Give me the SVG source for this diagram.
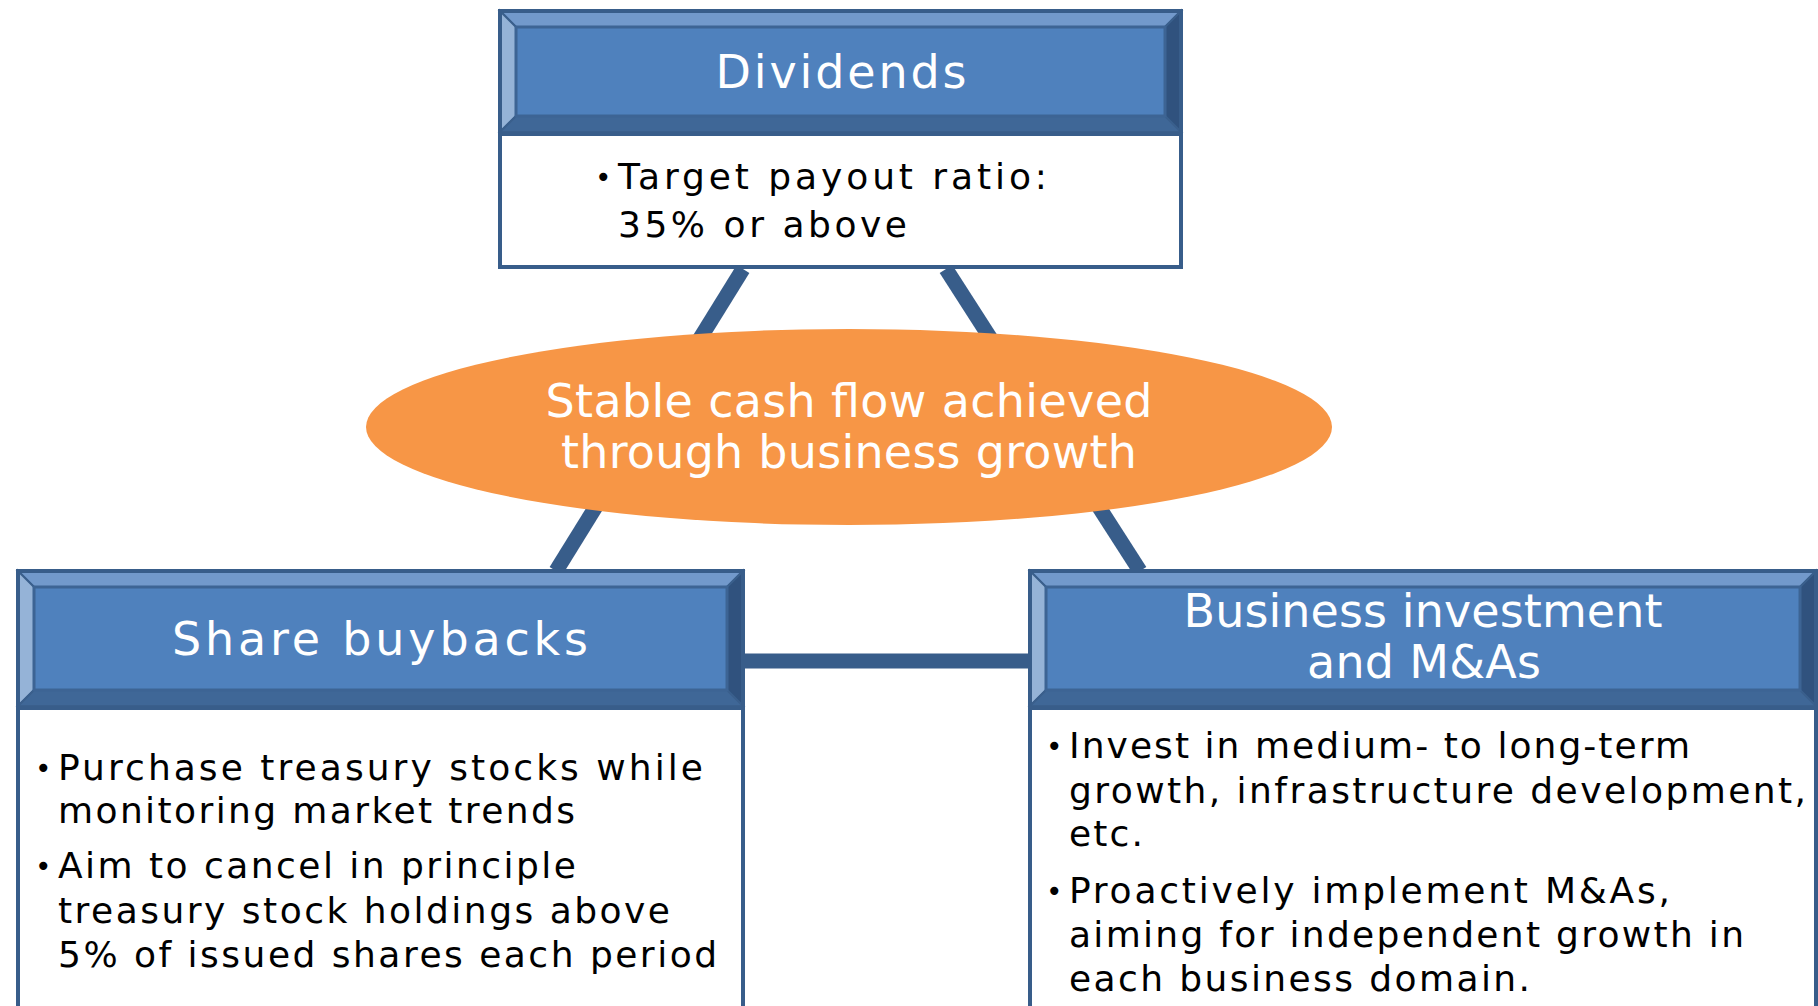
<svg xmlns="http://www.w3.org/2000/svg" width="1818" height="1006" viewBox="0 0 1818 1006">
  <style>
    .title { font-family: "DejaVu Sans", "Liberation Sans", sans-serif; font-size: 46px; fill: #ffffff; text-anchor: middle; }
    .body { font-family: "DejaVu Sans", "Liberation Sans", sans-serif; font-size: 36px; fill: #000000; }
    .dot { font-family: "DejaVu Sans", "Liberation Sans", sans-serif; font-size: 28px; fill: #000000; }
    .frame { fill: #ffffff; stroke: #385D8A; stroke-width: 4; }
    .bev-top { fill: #7299CB; stroke: #3A5F8C; stroke-width: 2; }
    .bev-left { fill: #95B3D7; stroke: #3A5F8C; stroke-width: 2; }
    .bev-right { fill: #30527E; stroke: #3A5F8C; stroke-width: 2; }
    .bev-bottom { fill: #3F6797; stroke: #3A5F8C; stroke-width: 2; }
    .face { fill: #4F81BD; stroke: #3D6494; stroke-width: 3; }
    .link { stroke: #385D8A; stroke-width: 15; fill: none; }
  </style>

  <!-- connectors -->
  <g id="connectors">
    <line class="link" x1="743" y1="269" x2="556" y2="571"/>
    <line class="link" x1="946" y1="269" x2="1140" y2="571"/>
    <line class="link" x1="743" y1="661" x2="1030" y2="661"/>
  </g>

  <!-- centre ellipse -->
  <g id="node-cashflow">
    <ellipse cx="849" cy="427" rx="483" ry="98" fill="#F79646"/>
    <text class="title" x="849" y="417" textLength="607" lengthAdjust="spacing">Stable cash flow achieved</text>
    <text class="title" x="849" y="468" textLength="576" lengthAdjust="spacing">through business growth</text>
  </g>

  <!-- Dividends -->
  <g id="node-dividends">
    <rect class="frame" x="500" y="11" width="681" height="256"/>
    <polygon class="bev-top" points="500,11 1181,11 1165,27 516,27"/>
    <polygon class="bev-left" points="500,11 516,27 516,116 500,132"/>
    <polygon class="bev-right" points="1181,11 1181,132 1165,116 1165,27"/>
    <polygon class="bev-bottom" points="500,132 516,116 1165,116 1181,132"/>
    <rect class="face" x="516" y="27" width="649" height="89"/>
    <rect x="500" y="11" width="681" height="123" fill="none" stroke="#385D8A" stroke-width="4"/>
    <text class="title" x="841" y="88" textLength="251" lengthAdjust="spacing">Dividends</text>
    <text class="dot" x="595" y="187">•</text>
    <text class="body" x="618" y="189" textLength="429" lengthAdjust="spacing">Target payout ratio:</text>
    <text class="body" x="618" y="237" textLength="289" lengthAdjust="spacing">35% or above</text>
  </g>

  <!-- Share buybacks -->
  <g id="node-buybacks">
    <rect class="frame" x="18" y="571" width="725" height="445"/>
    <polygon class="bev-top" points="18,571 743,571 727,587 34,587"/>
    <polygon class="bev-left" points="18,571 34,587 34,690 18,706"/>
    <polygon class="bev-right" points="743,571 743,706 727,690 727,587"/>
    <polygon class="bev-bottom" points="18,706 34,690 727,690 743,706"/>
    <rect class="face" x="34" y="587" width="693" height="103"/>
    <rect x="18" y="571" width="725" height="137" fill="none" stroke="#385D8A" stroke-width="4"/>
    <text class="title" x="380" y="655" textLength="416" lengthAdjust="spacing">Share buybacks</text>
    <text class="dot" x="35" y="778">•</text>
    <text class="body" x="58" y="780" textLength="645" lengthAdjust="spacing">Purchase treasury stocks while</text>
    <text class="body" x="58" y="823" textLength="517" lengthAdjust="spacing">monitoring market trends</text>
    <text class="dot" x="35" y="876">•</text>
    <text class="body" x="58" y="878" textLength="518" lengthAdjust="spacing">Aim to cancel in principle</text>
    <text class="body" x="58" y="923" textLength="612" lengthAdjust="spacing">treasury stock holdings above</text>
    <text class="body" x="58" y="967" textLength="659" lengthAdjust="spacing">5% of issued shares each period</text>
  </g>

  <!-- Business investment and M&As -->
  <g id="node-investment">
    <rect class="frame" x="1030" y="571" width="786" height="445"/>
    <polygon class="bev-top" points="1030,571 1816,571 1800,587 1046,587"/>
    <polygon class="bev-left" points="1030,571 1046,587 1046,690 1030,706"/>
    <polygon class="bev-right" points="1816,571 1816,706 1800,690 1800,587"/>
    <polygon class="bev-bottom" points="1030,706 1046,690 1800,690 1816,706"/>
    <rect class="face" x="1046" y="587" width="754" height="103"/>
    <rect x="1030" y="571" width="786" height="137" fill="none" stroke="#385D8A" stroke-width="4"/>
    <text class="title" x="1423" y="627" textLength="479" lengthAdjust="spacing">Business investment</text>
    <text class="title" x="1424" y="678" textLength="234" lengthAdjust="spacing">and M&amp;As</text>
    <text class="dot" x="1046" y="756">•</text>
    <text class="body" x="1069" y="758" textLength="621" lengthAdjust="spacing">Invest in medium- to long-term</text>
    <text class="body" x="1069" y="803" textLength="737" lengthAdjust="spacing">growth, infrastructure development,</text>
    <text class="body" x="1069" y="846" textLength="74" lengthAdjust="spacing">etc.</text>
    <text class="dot" x="1046" y="901">•</text>
    <text class="body" x="1069" y="903" textLength="601" lengthAdjust="spacing">Proactively implement M&amp;As,</text>
    <text class="body" x="1069" y="947" textLength="675" lengthAdjust="spacing">aiming for independent growth in</text>
    <text class="body" x="1069" y="991" textLength="461" lengthAdjust="spacing">each business domain.</text>
  </g>
</svg>
